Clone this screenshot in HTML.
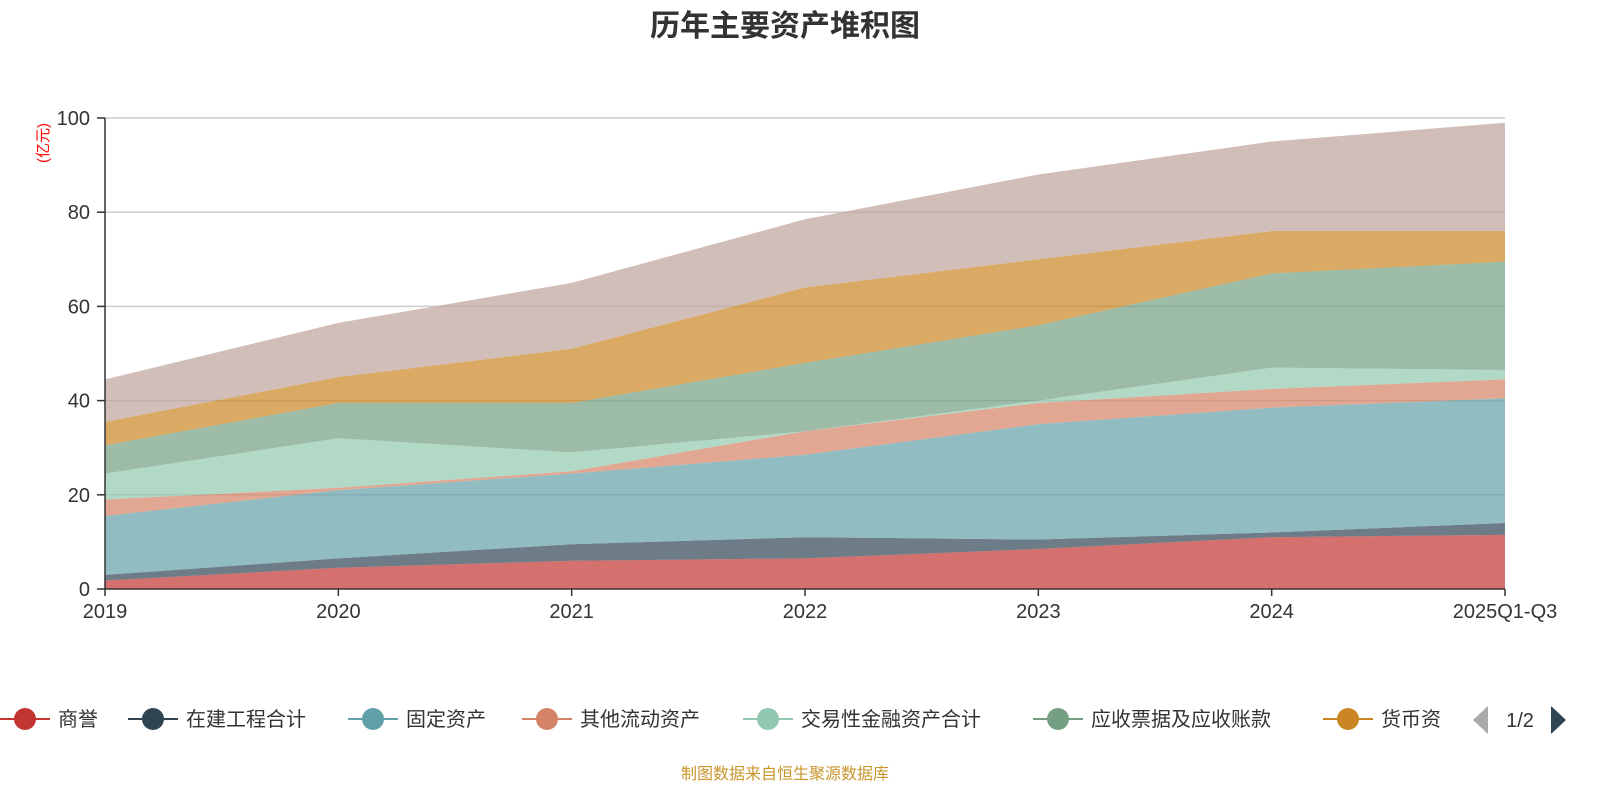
<!DOCTYPE html>
<html><head><meta charset="utf-8">
<style>
html,body{margin:0;padding:0;background:#fff;}
svg{display:block;font-family:"Liberation Sans","Noto Sans CJK SC",sans-serif;}
</style></head>
<body>
<svg id="chart" width="1600" height="800">
<text x="785" y="36" text-anchor="middle" font-size="30" font-weight="bold" fill="#333">历年主要资产堆积图</text>
<text transform="translate(48,143) rotate(-90)" text-anchor="middle" font-size="15" fill="#f00">(亿元)</text>
<g id="grid"></g>
<g id="areas"></g>
<g id="axes"></g>
<g id="legend"></g>
<text x="785" y="779" text-anchor="middle" font-size="16" fill="#c8962c">制图数据来自恒生聚源数据库</text>
</svg>
<script>
const categories=["2019","2020","2021","2022","2023","2024","2025Q1-Q3"];
const yTicks=[0,20,40,60,80,100];
const seriesNames=["商誉","在建工程合计","固定资产","其他流动资产","交易性金融资产合计","应收票据及应收账款","货币资金","存货"];
const sGoodwill=[1.8,4.5,6,6.5,8.5,11,11.5];
const sConstruction=[1.2,2,3.5,4.5,2,1,2.5];
const sFixed=[12.5,14.5,15,17.5,24.5,26.5,26.5];
const sOtherCurrent=[3.5,0.5,0.5,5,4.5,4,4];
const sTrading=[5.5,10.5,4,0,0.5,4.5,2];
const sReceivable=[6,7.5,10.5,14.5,16,20,23];
const sCash=[5,5.5,11.5,16,14,9,6.5];
const sInventory=[9,11.5,14,14.5,18,19,23];
const allSeries=[sGoodwill,sConstruction,sFixed,sOtherCurrent,sTrading,sReceivable,sCash,sInventory];
const colors=["#c23531","#2f4554","#61a0a8","#d48265","#91c7ae","#749f83","#ca8622","#bda29a"];
const NS="http://www.w3.org/2000/svg";
const x0=105,x1=1505,yb=589,yt=118;
const xs=i=>x0+i*(x1-x0)/(categories.length-1);
const ys=v=>yb-v*(yb-yt)/100;
function mk(t,a,p){const e=document.createElementNS(NS,t);for(const k in a)e.setAttribute(k,a[k]);p.appendChild(e);return e;}
const grid=document.getElementById('grid'),axes=document.getElementById('axes'),areas=document.getElementById('areas'),legend=document.getElementById('legend');
yTicks.forEach(v=>{
  if(v>0){const l=mk('line',{x1:x0,x2:x1,y1:ys(v),y2:ys(v),stroke:'#ccc','stroke-width':1.5},grid);
  
  }
  const t=mk('text',{x:90,y:ys(v)+7,'text-anchor':'end','font-size':20,fill:'#333'},axes);t.textContent=v;
  
  
  mk('line',{x1:x0-8,x2:x0,y1:ys(v),y2:ys(v),stroke:'#333','stroke-width':1.5},axes);
});
let cum=categories.map(()=>0);
allSeries.forEach((s,si)=>{
  const lo=cum.slice();cum=cum.map((c,i)=>c+s[i]);
  let d='M'+categories.map((c,i)=>xs(i)+','+ys(cum[i])).join('L');
  for(let i=categories.length-1;i>=0;i--)d+='L'+xs(i)+','+ys(lo[i]);
  const p=mk('path',{d:d+'Z',fill:colors[si],'fill-opacity':0.7,stroke:'none'},areas);
  
  
});
mk('line',{x1:x0,x2:x0,y1:yt,y2:yb,stroke:'#333','stroke-width':1.5},axes);
mk('line',{x1:x0,x2:x1,y1:yb,y2:yb,stroke:'#333','stroke-width':1.5},axes);
categories.forEach((c,i)=>{
  mk('line',{x1:xs(i),x2:xs(i),y1:yb,y2:yb+7,stroke:'#333','stroke-width':1.5},axes);
  const t=mk('text',{x:xs(i),y:618,'text-anchor':'middle','font-size':20,fill:'#333'},axes);t.textContent=c;
  
  
});
const legX=[0,128,348,522,743,1033,1323];
legX.forEach((lx,i)=>{
  const g=mk('g',{},legend);
  
  
  mk('line',{x1:lx,x2:lx+50,y1:719,y2:719,stroke:colors[i],'stroke-width':2},g);
  mk('circle',{cx:lx+25,cy:719,r:11,fill:colors[i]},g);
  const t=mk('text',{x:lx+58,y:726,'font-size':20,fill:'#333'},g);
  t.textContent=i===6?'货币资':seriesNames[i];
});
const pl=mk('polygon',{points:'1488,706 1488,734 1473,720',fill:'#aaa'},legend);


const pt=mk('text',{x:1520,y:727,'text-anchor':'middle','font-size':20,fill:'#333'},legend);pt.textContent='1/2';


const pn=mk('polygon',{points:'1551,706 1551,734 1566,720',fill:'#2f4554'},legend);


</script>
</body></html>
